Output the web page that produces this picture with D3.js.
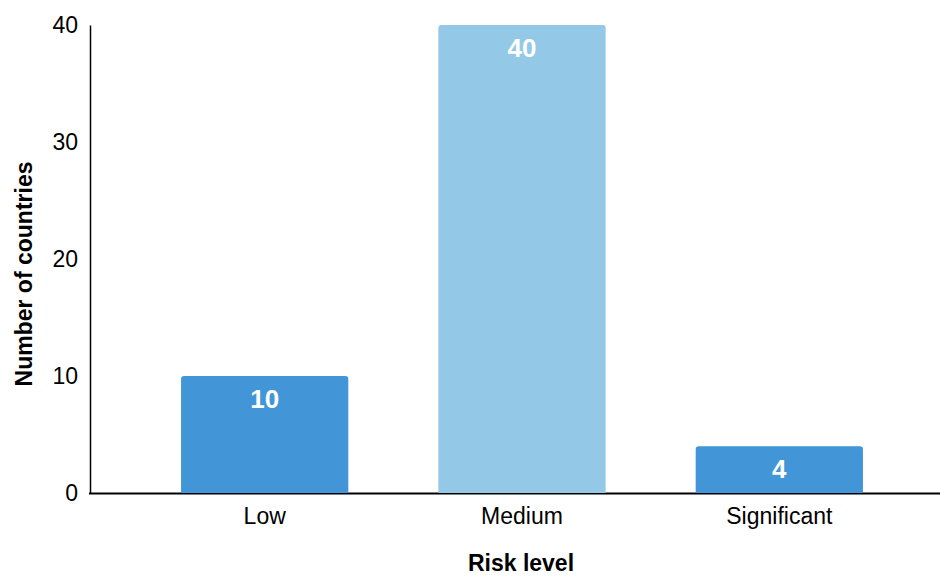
<!DOCTYPE html>
<html><head><meta charset="utf-8">
<script src="https://cdn.jsdelivr.net/npm/d3@7"></script>
<style>body{margin:0;background:#fff;}svg{display:block;font-family:"Liberation Sans",Arial,sans-serif;}</style>
</head><body><svg id="c" width="940" height="576"></svg>
<script>
const categories = ["Low", "Medium", "Significant"];
const values = [10, 40, 4];
const barColors = ["#4296d8", "#93c8e6", "#4296d8"];
const yTicks = [0, 10, 20, 30, 40];

const svg = d3.select("#c");
const x = d3.scaleBand().domain(categories).range([91, 953]).paddingInner(0.35).paddingOuter(0.35);
const y = d3.scaleLinear().domain([0, 40]).range([493, 25]);

// x axis baseline (drawn under bars)
svg.append("line").attr("x1", 89).attr("x2", 940).attr("y1", 493.5).attr("y2", 493.5)
  .attr("stroke", "#000").attr("stroke-width", 2);

// bars with slightly rounded tops
const r = 3;
svg.selectAll("path.bar").data(categories).enter().append("path")
  .attr("class", "bar")
  .attr("fill", (d, i) => barColors[i])
  .attr("d", (d, i) => {
    const x0 = x(d), w = x.bandwidth(), y0 = y(values[i]), b = y(0);
    return `M${x0},${b}V${y0 + r}Q${x0},${y0} ${x0 + r},${y0}H${x0 + w - r}Q${x0 + w},${y0} ${x0 + w},${y0 + r}V${b}Z`;
  });

// value labels
svg.selectAll("text.val").data(categories).enter().append("text")
  .attr("x", d => x(d) + x.bandwidth() / 2)
  .attr("y", (d, i) => y(values[i]) + 32)
  .attr("text-anchor", "middle")
  .attr("fill", "#fff").attr("font-weight", "bold").attr("font-size", 26)
  .text((d, i) => values[i]);

// y axis
const ya = svg.append("g").attr("transform", "translate(90,0)")
  .call(d3.axisLeft(y).tickValues(yTicks).tickSize(0).tickPadding(12));
ya.select(".domain").attr("stroke", "#000").attr("stroke-width", 1.5);
ya.selectAll("text").attr("font-size", 23).attr("fill", "#000").attr("font-family", "Liberation Sans, Arial, sans-serif");

// x axis labels
const xa = svg.append("g").attr("transform", "translate(0,493)")
  .call(d3.axisBottom(x).tickSize(0).tickPadding(15));
xa.select(".domain").remove();
xa.selectAll("text").attr("font-size", 23).attr("fill", "#000").attr("font-family", "Liberation Sans, Arial, sans-serif");

// titles
svg.append("text").attr("x", 521).attr("y", 571).attr("text-anchor", "middle")
  .attr("font-weight", "bold").attr("font-size", 23).text("Risk level");
svg.append("text").attr("transform", "translate(32,274) rotate(-90)").attr("text-anchor", "middle")
  .attr("font-weight", "bold").attr("font-size", 23).text("Number of countries");
</script></body></html>
